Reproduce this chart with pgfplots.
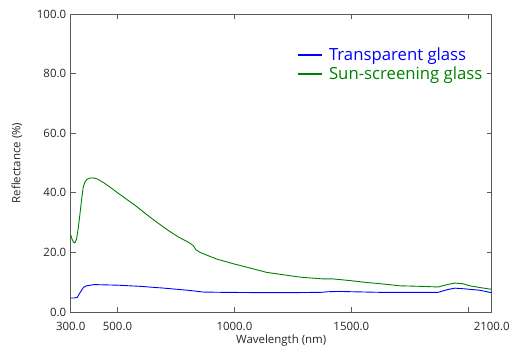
\documentclass[border=0pt]{standalone}
\usepackage{pgfplots}
\pgfplotsset{compat=1.18}
\usepackage{fontspec}
\setmainfont{Open Sans}
\definecolor{axgray}{RGB}{90,90,90}
\definecolor{sgreen}{RGB}{0,128,0}
\definecolor{tblue}{RGB}{0,0,255}
\begin{document}
\begin{tikzpicture}
\begin{axis}[
  scale only axis,
  width=421bp, height=298bp,
  xmin=300, xmax=2100, ymin=0, ymax=100,
  axis line style={axgray, line width=0.8bp},
  tick style={axgray, line width=0.8bp},
  major tick length=5bp,
  tick align=inside,
  xtick={300,500,1000,1500,2000,2100},
  xticklabels={300.0,500.0,1000.0,1500.0,,2100.0},
  ytick={0,20,40,60,80,100},
  yticklabels={0.0,20.0,40.0,60.0,80.0,100.0},
  ticklabel style={font=\fontsize{11.5}{13}\selectfont, text=black!85},
  xticklabel style={yshift=-7bp},
  yticklabel style={xshift=-1bp},
  /pgf/number format/assume math mode=true,
  xlabel={Wavelength (nm)},
  ylabel={Reflectance (\%)},
  label style={font=\fontsize{11.5}{13}\selectfont, text=black!85},
  xlabel style={yshift=3bp},
  ylabel style={yshift=8bp},
  legend style={draw=none, fill=none, at={(0.536,0.892)}, anchor=north west,
    font=\fontsize{16.8}{18}\selectfont, row sep=1.5bp, inner sep=0pt,
    nodes={inner sep=1.5bp},
    /tikz/every odd column/.append style={column sep=5bp}},
  legend cell align=left,
  legend image code/.code={\draw[#1, line width=2bp] (0bp,0bp) -- (24bp,0bp);},
]
\addplot[tblue, line width=0.9bp] coordinates {
(300,4.7) (315,4.7) (328,4.9) (340,6.5) (355,8.3) (368,8.8) (385,9.0) (400,9.2)
(450,9.1) (500,9.0) (600,8.6) (700,8.0) (800,7.3) (824,7.1) (866,6.7) (950,6.6)
(1109,6.5) (1250,6.5) (1370,6.6) (1400,6.8) (1450,6.9) (1500,6.8) (1622,6.6)
(1750,6.6) (1871,6.6) (1910,7.5) (1942,8.0) (1980,7.8) (2049,7.3) (2092,6.6) (2100,6.6)
};
\addlegendentry{\textcolor{tblue}{Transparent glass}}
\addplot[sgreen, line width=0.9bp] coordinates {
(300,25.9) (305,24.6) (312,23.4) (318,23.2) (325,24.5) (333,28.5) (340,33.2)
(347,38.0) (354,42.1) (361,43.6) (368,44.4) (380,44.9) (397,45.0) (415,44.6)
(439,43.5) (475,41.5) (511,39.4) (545,37.5) (582,35.4) (620,33.0) (653,31.0)
(690,28.9) (724,27.0) (760,25.2) (796,23.7) (815,22.8) (825,22.2) (835,20.9)
(853,20.0) (923,17.8) (995,16.2) (1138,13.3) (1280,11.7) (1380,11.1)
(1422,11.1) (1500,10.5) (1565,9.9) (1622,9.5) (1707,8.8) (1800,8.6) (1871,8.4)
(1910,9.2) (1942,9.7) (1975,9.5) (2006,8.8) (2050,8.2) (2092,7.7) (2100,7.6)
};
\addlegendentry{\textcolor{sgreen}{Sun-screening glass}}
\end{axis}
\pgfresetboundingbox
\path[use as bounding box] (current axis.south west) ++(-70.7bp,-38bp) rectangle ([shift={(19.3bp,14bp)}]current axis.north east);
\end{tikzpicture}
\end{document}
